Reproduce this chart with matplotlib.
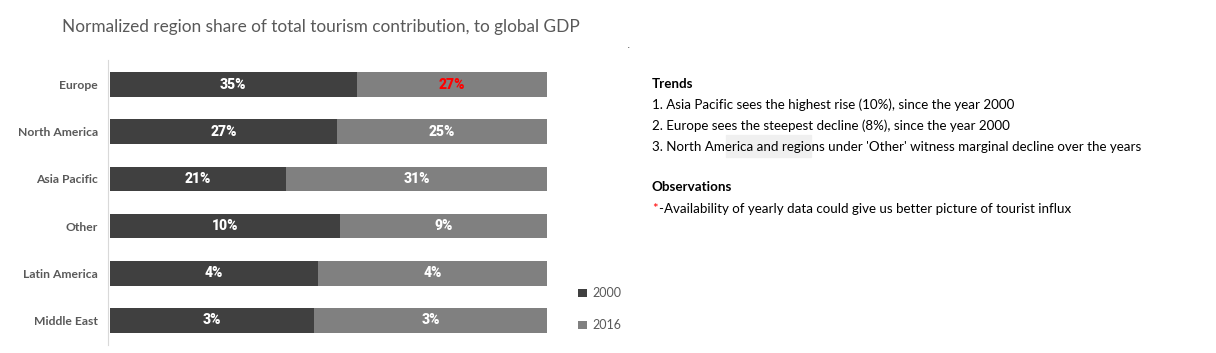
import numpy as np
import matplotlib.pyplot as plt
from matplotlib.patches import Rectangle

# Region shares (%) of total tourism contribution to global GDP
regions = ['Europe', 'North America', 'Asia Pacific', 'Other', 'Latin America', 'Middle East']
share_2000 = [35, 27, 21, 10, 3.8, 2.8]
share_2016 = [27, 25, 31, 9, 4.2, 3.2]

trends = [
    "1. Asia Pacific sees the highest rise (10%), since the year 2000",
    "2. Europe sees the steepest decline (8%), since the year 2000",
    "3. North America and regions under 'Other' witness marginal decline over the years",
]
observation = "-Availability of yearly data could give us better picture of tourist influx"

plt.rcParams['font.family'] = ['Lato', 'DejaVu Sans']

dark = '#404040'
light = '#808080'
text_grey = '#595959'

a = np.array(share_2000, dtype=float)
b = np.array(share_2016, dtype=float)
tot = a + b
na = a / tot
nb = b / tot
ypos = np.arange(len(regions))

fig = plt.figure(figsize=(12.16, 3.53), dpi=100)
ax = fig.add_axes([110/1216, 1 - 345/353, 437/1216, 285/353])

# spines first (set_position resets the ticks)
for s in ['top', 'right', 'bottom']:
    ax.spines[s].set_visible(False)
ax.spines['left'].set_color('#d9d9d9')
ax.spines['left'].set_position(('axes', -0.005))

ax.barh(ypos, na, height=0.53, color=dark, label='2000')
ax.barh(ypos, nb, left=na, height=0.53, color=light, label='2016')

# value labels
for i in range(len(regions)):
    ax.text(na[i] / 2, ypos[i], '{:.0f}%'.format(a[i]), ha='center', va='center',
            color='white', fontsize=10, fontweight='heavy', family='Roboto')
    col = 'red' if regions[i] == 'Europe' else 'white'
    ax.text(na[i] + nb[i] / 2, ypos[i], '{:.0f}%'.format(b[i]), ha='center', va='center',
            color=col, fontsize=10, fontweight='heavy', family='Roboto')

ax.set_xlim(0, 1)
ax.set_ylim(5.53, -0.53)
ax.set_yticks(ypos)
ax.set_yticklabels(regions, fontsize=8.7, fontweight='bold', color=text_grey)
ax.tick_params(axis='y', length=0, pad=7)
ax.set_xticks([])

# legend
leg = fig.legend(loc='upper left', bbox_to_anchor=(567/1216, 1 - 276/353), frameon=False,
                 fontsize=9, labelcolor=text_grey, handlelength=0.7, handleheight=0.7,
                 handletextpad=0.4, labelspacing=1.6)

fig.text(62/1216, 1 - 27/353, 'Normalized region share of total tourism contribution, to global GDP',
         fontsize=12.4, color=text_grey, va='center')
fig.text(628/1216, 1 - 45/353, '.', fontsize=5, color='black', va='center')

# notes on the right
fig.patches.append(Rectangle((726/1216, 1 - 157/353), 85/1216, 22/353,
                             transform=fig.transFigure, color='#f0f0f0', zorder=0))
x0 = 652/1216
fs = 9.6
fig.text(x0, 1 - 84/353, 'Trends', fontsize=fs, fontweight='bold', va='center')
for k, line in enumerate(trends):
    fig.text(x0, 1 - (105 + 21*k)/353, line, fontsize=fs, va='center')
fig.text(x0, 1 - 187/353, 'Observations', fontsize=fs, fontweight='bold', va='center')
fig.text(x0, 1 - 209/353, '*', fontsize=fs, color='red', va='center')
fig.text(x0 + 7/1216, 1 - 209/353, observation, fontsize=fs, va='center')

fig.savefig('out.png', dpi=100)
